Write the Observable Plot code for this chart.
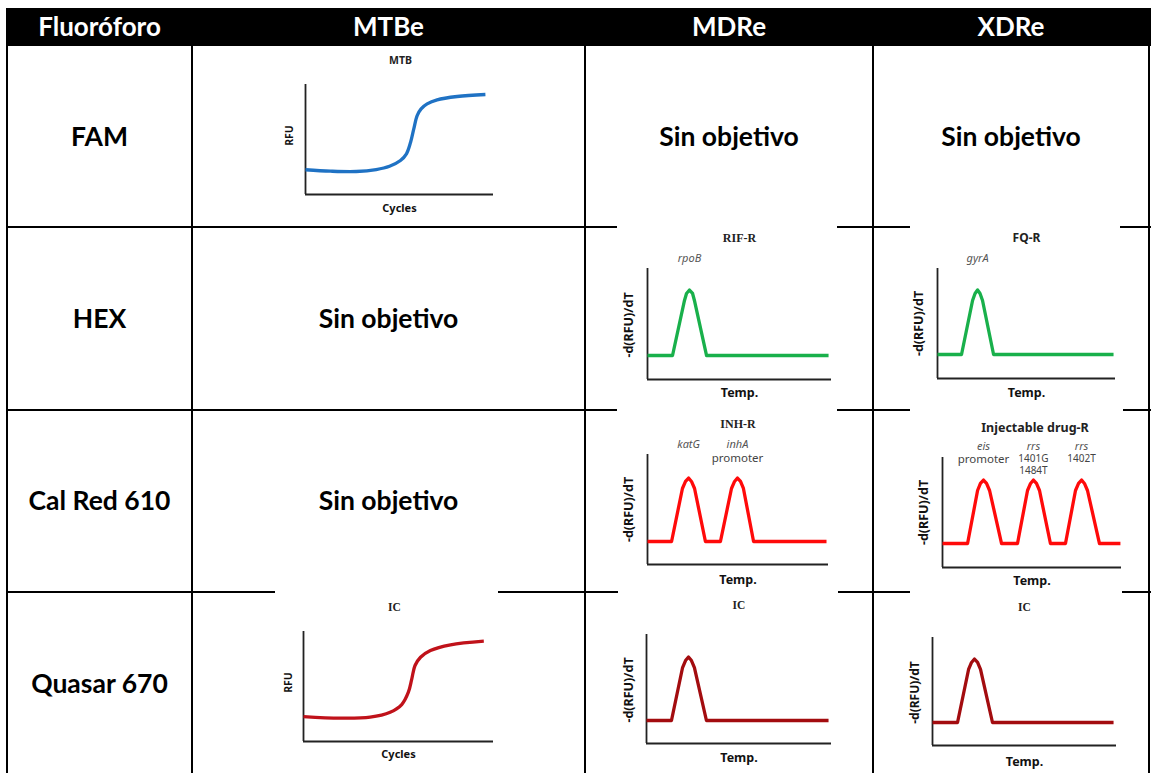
<!DOCTYPE html>
<html><head><meta charset="utf-8">
<script src="https://cdn.jsdelivr.net/npm/d3@7"></script>
<script src="https://cdn.jsdelivr.net/npm/@observablehq/plot@0.6"></script>
<style>
html,body{margin:0;padding:0;background:#fff;overflow:hidden;}
#page{position:relative;width:1153px;height:773px;overflow:hidden;font-family:Lato,"Open Sans",sans-serif;}
.line{position:absolute;background:#000;}
.cell{position:absolute;display:flex;align-items:center;justify-content:center;font-weight:700;font-size:26.5px;color:#000;white-space:nowrap;}
.hdr{color:#fff;font-size:26px;}
</style></head><body><div id="page"></div>
<script>
// ---------- DATA ----------
const headers = ["Fluoróforo", "MTBe", "MDRe", "XDRe"];
const fluorophores = ["FAM", "HEX", "Cal Red 610", "Quasar 670"];
const noTarget = "Sin objetivo";
// table content: chart key or null (= "Sin objetivo")
const cellMTBe = ["MTB", null, null, "IC_MTBe"];
const cellMDRe = [null, "RIF-R", "INH-R", "IC_MDRe"];
const cellXDRe = [null, "FQ-R", "INJ", "IC_XDRe"];

// amplification curves (x: cycles, % of axis; y: RFU, % of axis)
const mtbCycles = [0, 13.3, 27.0, 37.6, 44.7, 50.5, 53.7, 55.9, 57.6, 59.4, 61.5, 64.7, 70.0, 80.7, 95.7];
const mtbRFU    = [22.5, 21.2, 20.9, 22.7, 25.7, 30.9, 37.0, 47.5, 59.7, 71.8, 77.9, 82.4, 86.1, 89.1, 90.9];
const icMtbCycles = [0, 19.3, 35.1, 45.6, 51.7, 55.2, 57.0, 58.7, 61.6, 66.8, 77.4, 94.9];
const icMtbRFU    = [22.7, 21.2, 22.1, 26.6, 33.6, 44.8, 57.0, 69.1, 76.6, 82.7, 87.9, 91.2];

// melting curves (x: temp, % of axis; y: -d(RFU)/dT, % of axis)
const rifTemp = [0, 13.6, 20.1, 21.2, 22.8, 24.5, 25.5, 32.1, 98.4];
const rifD    = [21.6, 21.6, 71.2, 77.5, 80.6, 77.5, 71.2, 21.6, 21.6];
const fqTemp = [0, 13.5, 19.7, 21.1, 22.5, 23.9, 25.3, 31.5, 98.9];
const fqD    = [21.8, 21.8, 70.9, 77.3, 80.5, 77.3, 70.9, 21.8, 21.8];
const inhTemp = [0, 13.3, 19.3, 21.0, 22.7, 24.3, 26.0, 32.0, 40.3, 46.4, 48.1, 49.7, 51.4, 53.0, 58.6, 98.9];
const inhD    = [20.9, 20.9, 69.1, 75.5, 78.6, 75.5, 69.1, 20.9, 20.9, 69.1, 75.5, 78.6, 75.5, 69.1, 20.9, 20.9];
const injTemp = [0, 14.0, 19.6, 21.2, 22.9, 24.6, 26.3, 33.0, 41.9, 47.5, 49.2, 50.8, 52.5, 54.2, 60.3, 68.7, 74.3, 76.0, 77.7, 79.3, 81.0, 87.7, 99.4];
const injD    = [21.8, 21.8, 70.0, 76.4, 79.5, 76.4, 70.0, 21.8, 21.8, 70.0, 76.4, 79.5, 76.4, 70.0, 21.8, 21.8, 70.0, 76.4, 79.5, 76.4, 70.0, 21.8, 21.8];
const icMdrTemp = [0, 13.5, 19.5, 21.1, 22.7, 24.3, 25.9, 32.4, 98.4];
const icMdrD    = [21.1, 21.1, 69.7, 76.1, 79.4, 76.1, 69.7, 21.1, 21.1];
const icXdrTemp = [0, 13.6, 19.6, 21.2, 22.8, 24.5, 26.1, 32.6, 98.4];
const icXdrD    = [21.3, 21.3, 70.4, 76.9, 80.1, 76.9, 70.4, 21.3, 21.3];

// peak labels
const rifGenes = [{x: 22.8, text: "rpoB", kind: "gene"}];
const fqGenes = [{x: 22.5, text: "gyrA", kind: "gene"}];
const inhGenes = [
  {x: 22.7, text: "katG", kind: "gene"},
  {x: 49.7, text: "inhA", kind: "gene"},
  {x: 49.7, text: "promoter", kind: "sub1"}
];
const injGenes = [
  {x: 22.9, text: "eis", kind: "gene"},
  {x: 22.9, text: "promoter", kind: "sub1"},
  {x: 50.8, text: "rrs", kind: "gene"},
  {x: 50.8, text: "1401G", kind: "num1"},
  {x: 50.8, text: "1484T", kind: "num2"},
  {x: 77.7, text: "rrs", kind: "gene"},
  {x: 77.7, text: "1402T", kind: "num1"}
];

// ---------- LAYOUT ----------
const colX = [7, 192, 585, 873, 1149];
const rowY = [8, 46, 227, 410, 592, 776];
const page = document.getElementById("page");
function div(cls, css, text) {
  const d = document.createElement("div");
  d.className = cls;
  Object.assign(d.style, css);
  if (text != null) d.textContent = text;
  page.appendChild(d);
  return d;
}
// header band
div("line", {left: "6px", top: rowY[0] + "px", width: (colX[4] - 6 + 2) + "px", height: (rowY[1] - rowY[0]) + "px"});
// grid lines
colX.forEach(x => div("line", {left: (x - 1) + "px", top: rowY[1] + "px", width: "2px", height: (rowY[5] - rowY[1]) + "px"}));
rowY.slice(2, 5).forEach(y => div("line", {left: "6px", top: (y - 1) + "px", width: (colX[4] - 6 + 2) + "px", height: "2px"}));
// header texts
headers.forEach((h, j) => div("cell hdr", {left: colX[j] + "px", width: (colX[j + 1] - colX[j]) + "px", top: (rowY[0] - 1) + "px", height: (rowY[1] - rowY[0]) + "px"}, h));
// row labels and empty cells
const cols = [cellMTBe, cellMDRe, cellXDRe];
fluorophores.forEach((f, i) => {
  const top = rowY[i + 1], h = rowY[i + 2] - rowY[i + 1];
  div("cell", {left: colX[0] + "px", width: (colX[1] - colX[0]) + "px", top: (top - 1) + "px", height: h + "px"}, f);
  cols.forEach((col, j) => {
    if (col[i] == null) div("cell", {left: colX[j + 1] + "px", width: (colX[j + 2] - colX[j + 1]) + "px", top: (top - 1) + "px", height: h + "px"}, noTarget);
  });
});

// ---------- MINI CHARTS ----------
const blue = "#1f72c4", green = "#19b04b", red = "#ff0a0a", darkRed1 = "#c0121a", darkRed2 = "#a30c0f";
const charts = {
  "MTB": {box: [275, 48, 225, 178], m: [36, 7, 32, 30], x: mtbCycles, y: mtbRFU, color: blue, curve: "catmull-rom",
    title: "MTB", titleFont: "Noto Sans", titleSize: 10.5, titleDy: -24, titleDx: 1,
    yLabel: "RFU", yLabelSize: 10.5, yLabelDx: -16, yLabelDy: -4, xLabel: "Cycles", xLabelSize: 11, xLabelDy: 14, genes: []},
  "IC_MTBe": {box: [275, 590, 223, 186], m: [41, 5, 35, 28], x: icMtbCycles, y: icMtbRFU, color: darkRed1, curve: "catmull-rom",
    title: "IC", titleFont: "Liberation Serif", titleSize: 11.5, titleDy: -24, titleDx: -4,
    yLabel: "RFU", yLabelSize: 10.5, yLabelDx: -15, yLabelDy: -4, xLabel: "Cycles", xLabelSize: 11, xLabelDy: 13, genes: []},
  "RIF-R": {box: [617, 225, 220, 183], m: [43, 6, 29, 30], x: rifTemp, y: rifD, color: green, curve: "linear",
    title: "RIF-R", titleFont: "Liberation Serif", titleSize: 12, titleDy: -30, titleDx: 0,
    yLabel: "-d(RFU)/dT", yLabelSize: 12.5, yLabelDx: -19, yLabelDy: 1, xLabel: "Temp.", xLabelSize: 12.5, xLabelDy: 13, genes: rifGenes, geneDy: {gene: -10}},
  "FQ-R": {box: [910, 225, 210, 183], m: [43, 5, 30, 27], x: fqTemp, y: fqD, color: green, curve: "linear",
    title: "FQ-R", titleFont: "Noto Sans", titleSize: 12, titleDy: -30, titleDx: 0,
    yLabel: "-d(RFU)/dT", yLabelSize: 12.5, yLabelDx: -19, yLabelDy: 0, xLabel: "Temp.", xLabelSize: 12.5, xLabelDy: 14, genes: fqGenes, geneDy: {gene: -10}},
  "INH-R": {box: [617, 408, 220, 182], m: [46, 9, 26, 30], x: inhTemp, y: inhD, color: red, curve: "linear",
    title: "INH-R", titleFont: "Liberation Serif", titleSize: 12, titleDy: -30, titleDx: 0,
    yLabel: "-d(RFU)/dT", yLabelSize: 12.5, yLabelDx: -19, yLabelDy: 0, xLabel: "Temp.", xLabelSize: 12.5, xLabelDy: 15, genes: inhGenes, geneDy: {gene: -10, sub1: 4}},
  "INJ": {box: [910, 408, 213, 182], m: [49, 2, 23, 32], x: injTemp, y: injD, color: red, curve: "linear",
    title: "Injectable drug-R", titleFont: "Noto Sans", titleSize: 12.5, titleDy: -30, titleDx: 3,
    yLabel: "-d(RFU)/dT", yLabelSize: 12.5, yLabelDx: -19, yLabelDy: 0, xLabel: "Temp.", xLabelSize: 12.5, xLabelDy: 13, genes: injGenes, geneDy: {gene: -11, sub1: 2, num1: 1, num2: 13}},
  "IC_MDRe": {box: [618, 590, 220, 186], m: [44, 7, 33, 28], x: icMdrTemp, y: icMdrD, color: darkRed2, curve: "linear",
    title: "IC", titleFont: "Liberation Serif", titleSize: 11.5, titleDy: -29, titleDx: 0,
    yLabel: "-d(RFU)/dT", yLabelSize: 12.5, yLabelDx: -18, yLabelDy: 1, xLabel: "Temp.", xLabelSize: 12.5, xLabelDy: 14, genes: []},
  "IC_XDRe": {box: [910, 590, 212, 186], m: [47, 6, 31, 22], x: icXdrTemp, y: icXdrD, color: darkRed2, curve: "linear",
    title: "IC", titleFont: "Liberation Serif", titleSize: 11.5, titleDy: -30, titleDx: 0,
    yLabel: "-d(RFU)/dT", yLabelSize: 12, yLabelDx: -17, yLabelDy: 1, xLabel: "Temp.", xLabelSize: 12.5, xLabelDy: 16, genes: []}
};

const geneStyle = {
  gene: {fontStyle: "italic", fontSize: 11, fill: "#555"},
  sub1: {fontStyle: "normal", fontSize: 11.5, fill: "#444"},
  num1: {fontStyle: "normal", fontSize: 10, fill: "#444"},
  num2: {fontStyle: "normal", fontSize: 10, fill: "#444"}
};

function miniChart(c) {
  const [left, top, width, height] = c.box;
  const [mt, mr, mb, ml] = c.m;
  const data = c.x.map((x, i) => ({x, y: c.y[i]}));
  const marks = [
    Plot.ruleY([0], {stroke: "#222", strokeWidth: 1.8}),
    Plot.ruleX([0], {stroke: "#222", strokeWidth: 1.8}),
    Plot.line(data, {x: "x", y: "y", stroke: c.color, strokeWidth: 3.3, curve: c.curve, strokeLinejoin: "round", strokeLinecap: "butt"}),
    Plot.text([c.title], {frameAnchor: "top", textAnchor: "middle", lineAnchor: "middle", dx: c.titleDx, dy: c.titleDy,
      fontFamily: c.titleFont, fontWeight: "bold", fontSize: c.titleSize, fill: "#222"}),
    Plot.text([c.yLabel], {frameAnchor: "left", rotate: -90, textAnchor: "middle", lineAnchor: "middle", dx: c.yLabelDx, dy: c.yLabelDy,
      fontFamily: "Noto Sans", fontWeight: "bold", fontSize: c.yLabelSize, fill: "#111"}),
    Plot.text([c.xLabel], {frameAnchor: "bottom", textAnchor: "middle", lineAnchor: "middle", dy: c.xLabelDy,
      fontFamily: "Noto Sans", fontWeight: "bold", fontSize: c.xLabelSize, fill: "#111"})
  ];
  c.genes.forEach(g => {
    const s = geneStyle[g.kind];
    marks.push(Plot.text([g], {x: "x", text: "text", frameAnchor: "top", textAnchor: "middle", lineAnchor: "middle",
      dy: c.geneDy[g.kind], fontFamily: "Noto Sans", fontStyle: s.fontStyle, fontSize: s.fontSize, fill: s.fill}));
  });
  const svg = Plot.plot({
    width, height, marginTop: mt, marginRight: mr, marginBottom: mb, marginLeft: ml,
    x: {domain: [0, 100], axis: null},
    y: {domain: [0, 100], axis: null},
    style: {background: "white", overflow: "visible", fontFamily: "Noto Sans"},
    marks
  });
  Object.assign(svg.style, {position: "absolute", left: left + "px", top: top + "px"});
  page.appendChild(svg);
}
[cellMTBe, cellMDRe, cellXDRe].flat().filter(k => k != null).forEach(k => miniChart(charts[k]));
</script>
</body></html>
